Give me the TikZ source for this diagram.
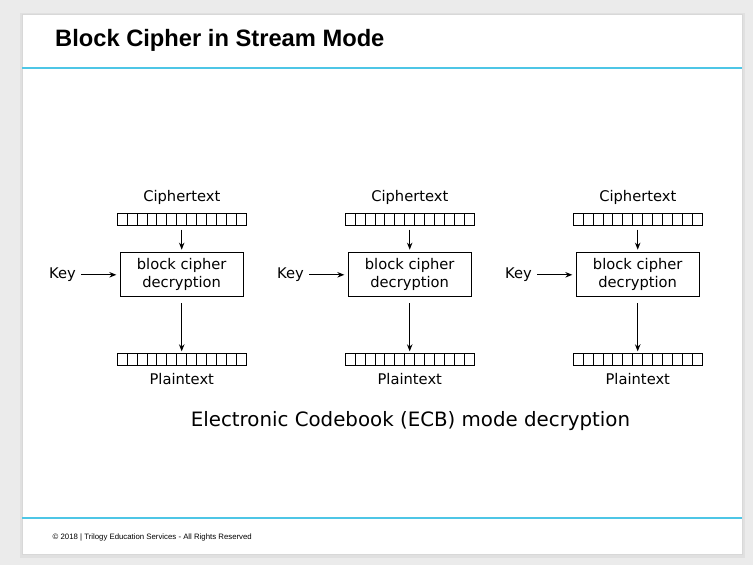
\documentclass[tikz,border=0pt]{standalone}
\usepackage{fontspec}
\setmainfont{DejaVu Sans}
\newfontfamily\arialfont{Liberation Sans}
\usetikzlibrary{arrows.meta}
\definecolor{bggray}{HTML}{EBEBEB}
\definecolor{shadowgray}{HTML}{E0E0E0}
\definecolor{slideborder}{HTML}{D8D8D8}
\definecolor{cyanline}{HTML}{4DC6E6}
\begin{document}
\begin{tikzpicture}[x=1pt,y=-1pt,
  lbl/.style={font=\fontsize{14.7}{16}\selectfont, inner sep=0pt},
  blk/.style={draw, line width=1pt, minimum width=122.7pt, minimum height=44.3pt,
    inner sep=0pt, align=center, font=\fontsize{14.7}{18}\selectfont},
  strip/.style={draw, line width=1pt, minimum width=129pt, minimum height=12pt, inner sep=0pt,
    path picture={\foreach \k in {1,...,12}{\draw[line width=1pt]
      ([xshift=\k*9.923pt]path picture bounding box.north west) --
      ([xshift=\k*9.923pt]path picture bounding box.south west);}}},
  arr/.style={-{Stealth[length=7pt,width=5.5pt]}, line width=1pt},
  rule/.style={cyanline, line width=2pt},
]
\useasboundingbox (0,0) rectangle (753,565);
\fill[bggray] (0,0) rectangle (753,565);
\fill[shadowgray] (20,13) rectangle (745,558);
\fill[white, draw=slideborder, line width=0.6pt] (22,14) rectangle (742,554);
% header and footer rules
\coordinate (hl) at (22,68);
\coordinate (hr) at (742,68);
\draw[rule] (hl) -- (hr);
\coordinate (fl) at (22,517.5);
\coordinate (fr) at (742,517.5);
\draw[rule] (fl) -- (fr);
\node[anchor=base west, inner sep=0pt, font=\arialfont\bfseries\fontsize{23.7}{26}\selectfont]
  (title) at (55,46.7) {Block Cipher in Stream Mode};
\node[anchor=west, inner sep=0pt, font=\arialfont\fontsize{7.8}{9}\selectfont]
  (footer) at (52.5,537.5) {\textcopyright{} 2018 | Trilogy Education Services - All Rights Reserved};
% three ECB decryption columns
\foreach \dx/\n in {0/a,228/b,456/c}{
  \node[lbl] (ct\n) at (181.8+\dx,197.8) {Ciphertext};
  \node[strip] (cs\n) at (181.8+\dx,219.5) {};
  \node[blk] (bc\n) at (181.7+\dx,274.8) {block cipher\\decryption};
  \node[strip] (ps\n) at (181.8+\dx,359.3) {};
  \node[lbl] (pt\n) at (181.8+\dx,378.8) {Plaintext};
  \node[lbl, anchor=east] (key\n) at (76+\dx,274.8) {Key};
  \draw[arr, shorten <=5pt, shorten >=3.5pt] (key\n.east) -- (bc\n.west);
  \draw[arr, shorten <=3.5pt, shorten >=2.5pt] (cs\n.south -| bc\n.north) -- (bc\n.north);
  \draw[arr, shorten <=6pt, shorten >=1.5pt] (bc\n.south) -- (ps\n.north -| bc\n.south);
}
\node[inner sep=0pt, font=\fontsize{19.8}{22}\selectfont] (caption) at (410.5,421)
  {Electronic Codebook (ECB) mode decryption};
\end{tikzpicture}
\end{document}
